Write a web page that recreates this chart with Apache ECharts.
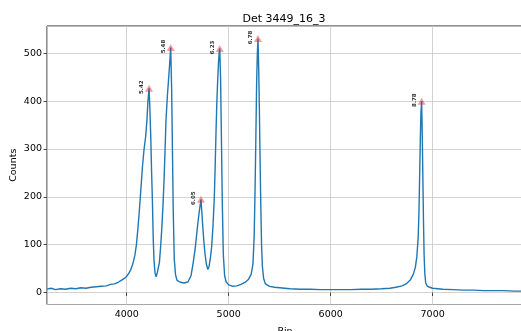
<!DOCTYPE html>
<html><head><meta charset="utf-8">
<script src="https://cdn.jsdelivr.net/npm/echarts@6/dist/echarts.min.js"></script>
<style>html,body{margin:0;padding:0;background:#fff}#c{width:521px;height:331px}</style>
</head><body><div id="c"></div>
<script>
const bins = [3218,3260,3300,3350,3400,3450,3500,3550,3600,3650,3700,3750,3800,3840,3880,3920,3950,3980,4000,4020,4040,4060,4080,4095,4110,4125,4140,4155,4170,4185,4198,4208,4219,4226,4235,4244,4252,4260,4268,4278,4288,4300,4310,4320,4332,4343,4355,4366,4376,4385,4398,4410,4420,4431,4440,4448,4456,4466,4478,4492,4520,4560,4600,4630,4650,4670,4685,4700,4712,4720,4728,4736,4745,4755,4768,4782,4796,4808,4820,4833,4846,4859,4868,4876,4884,4892,4900,4906,4912,4920,4928,4937,4947,4960,4975,5000,5040,5080,5120,5160,5195,5220,5238,5250,5258,5266,5274,5281,5287,5294,5301,5308,5315,5322,5330,5342,5360,5400,5450,5500,5600,5700,5800,5900,6000,6100,6200,6300,6400,6500,6580,6640,6700,6740,6780,6810,6830,6845,6858,6866,6873,6879,6885,6892,6898,6904,6910,6916,6923,6932,6945,6970,7000,7100,7200,7300,7400,7500,7600,7700,7800,7886];
const counts = [7,9,6,8,7,9,8,10,9,11,12,13,14,17,18,22,26,30,34,40,48,60,78,100,135,175,220,265,300,325,360,400,427,390,330,250,190,110,65,40,33,42,52,62,95,131,180,235,300,360,409,445,475,512,430,300,170,70,38,26,22,20,22,35,60,90,120,150,170,182,195,170,140,110,80,58,48,55,72,96,140,200,270,340,400,444,480,500,510,450,330,190,80,35,22,16,13,14,17,21,28,38,60,120,210,320,440,500,531,470,380,270,180,100,55,30,18,13,11,10,8,7,7,6,6,6,6,7,7,8,9,11,14,18,26,38,52,75,115,170,250,320,375,400,330,240,150,80,40,20,14,11,9,7,6,5,5,4,4,4,3,3];
const peakBins = [4219,4431,4728,4912,5287,6892];
const peakCounts = [427,512,195,510,531,400];
const peakLabels = ['5.42','5.48','6.05','6.23','6.78','8.78'];

const lineData = bins.map((b, i) => [b, counts[i]]);
const peakData = peakBins.map((b, i) => ({value: [b, peakCounts[i]], name: peakLabels[i]}));

const chart = echarts.init(document.getElementById('c'), null, {renderer: 'canvas'});
const font = 'DejaVu Sans';
chart.setOption({
  animation: false,
  backgroundColor: '#fff',
  title: {
    text: 'Det 3449_16_3', left: 279, top: 9, textAlign: 'center',
    textStyle: {fontFamily: font, fontSize: 11, fontWeight: 'normal', color: '#000'}
  },
  grid: {left: 47, right: -2, top: 26, bottom: 26.5, show: true, borderColor: '#222', borderWidth: 1,
         containLabel: false, outerBoundsMode: 'none'},
  xAxis: {
    type: 'value', min: 3218, max: 7886, splitNumber: 5,
    name: 'Bin', nameLocation: 'middle', nameGap: 22, nameMoveOverlap: false,
    nameTextStyle: {fontFamily: font, fontSize: 9.5, color: '#000'},
    axisLine: {show: false},
    axisTick: {show: true, length: 3.5, lineStyle: {color: '#222', width: 0.8}},
    axisLabel: {showMinLabel: false, showMaxLabel: false, fontFamily: font, fontSize: 9.5, color: '#000', margin: 5, formatter: v => String(v)},
    splitLine: {show: true, lineStyle: {color: '#c8c8c8', width: 0.8}}
  },
  yAxis: {
    type: 'value', min: -25, max: 557, splitNumber: 5,
    name: 'Counts', nameLocation: 'middle', nameGap: 28, nameRotate: 90, nameMoveOverlap: false,
    nameTextStyle: {fontFamily: font, fontSize: 9.5, color: '#000'},
    axisLine: {show: false},
    axisTick: {show: true, length: 3.5, lineStyle: {color: '#222', width: 0.8}},
    axisLabel: {showMinLabel: false, showMaxLabel: false, fontFamily: font, fontSize: 9.5, color: '#000', margin: 5, formatter: v => String(v)},
    splitLine: {show: true, lineStyle: {color: '#c8c8c8', width: 0.8}}
  },
  series: [
    {
      type: 'line', data: lineData, showSymbol: false, symbol: 'none',
      lineStyle: {color: '#1f77b4', width: 1.4}, z: 2
    },
    {
      type: 'scatter', data: peakData, symbol: 'triangle', symbolSize: [8, 7],
      itemStyle: {color: 'rgba(214,39,40,0.55)'}, z: 3,
      label: {
        show: true, position: 'inside', offset: [1, -7], rotate: 90,
        formatter: p => p.name, fontFamily: font, fontSize: 5.5, fontWeight: 'bold', color: '#000'
      }
    }
  ]
});
</script></body></html>
